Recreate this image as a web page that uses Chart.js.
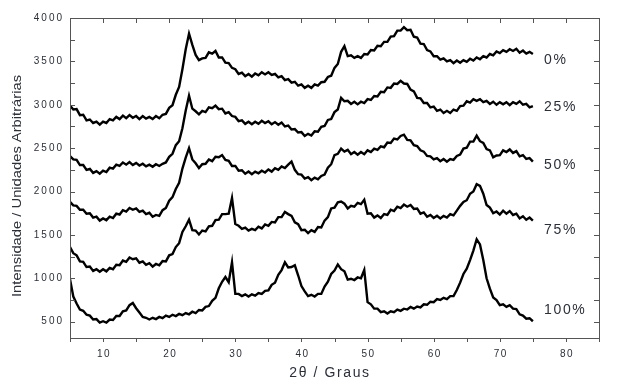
<!DOCTYPE html>
<html>
<head>
<meta charset="utf-8">
<script src="https://cdn.jsdelivr.net/npm/chart.js@4.4.1/dist/chart.umd.min.js"></script>
<style>
  html, body { margin: 0; padding: 0; background: #fff; }
  #wrap { width: 640px; height: 391px; position: relative; }
</style>
</head>
<body>
<div id="wrap"><canvas id="xrd"></canvas></div>
<script>
const angleStart = 5;
const angleStep = 0.5;

const seriesNames = ['0%', '25%', '50%', '75%', '100%'];

const s0 = [
  2990, 2945, 2950, 2880, 2885, 2820, 2830, 2790, 2805, 2770,
  2805, 2790, 2835, 2820, 2860, 2835, 2875, 2845, 2880, 2850,
  2870, 2835, 2870, 2840, 2860, 2835, 2870, 2845, 2885, 2895,
  2965, 2995, 3115, 3205, 3410, 3640, 3820, 3690, 3575, 3515,
  3535, 3540, 3605, 3590, 3620, 3545, 3545, 3485, 3480, 3425,
  3410, 3355, 3370, 3330, 3355, 3325, 3360, 3340, 3375, 3350,
  3375, 3345, 3355, 3315, 3330, 3285, 3295, 3255, 3265, 3220,
  3235, 3195, 3220, 3195, 3235, 3220, 3260, 3265, 3320, 3335,
  3425, 3470, 3610, 3675, 3560, 3570, 3540, 3560, 3540, 3585,
  3580, 3630, 3625, 3680, 3675, 3725, 3725, 3785, 3790, 3855,
  3855, 3895, 3860, 3865, 3785, 3775, 3705, 3700, 3630, 3615,
  3560, 3560, 3520, 3535, 3500, 3515, 3480, 3510, 3485, 3515,
  3495, 3530, 3510, 3545, 3525, 3560, 3545, 3585, 3570, 3615,
  3595, 3630, 3610, 3640, 3620, 3645, 3600, 3625, 3590, 3610,
  3585
];

const s25 = [
  2410, 2370, 2365, 2305, 2305, 2250, 2260, 2215, 2235, 2205,
  2240, 2225, 2275, 2265, 2310, 2295, 2335, 2310, 2340, 2305,
  2330, 2300, 2320, 2290, 2310, 2285, 2315, 2295, 2320, 2335,
  2400, 2435, 2535, 2580, 2730, 2935, 3105, 2955, 2925, 2890,
  2930, 2915, 2970, 2960, 2990, 2950, 2955, 2900, 2915, 2870,
  2860, 2810, 2820, 2780, 2805, 2775, 2805, 2780, 2815, 2790,
  2810, 2775, 2800, 2770, 2795, 2750, 2760, 2715, 2720, 2680,
  2685, 2640, 2665, 2645, 2695, 2690, 2745, 2755, 2825, 2835,
  2915, 2945, 3080, 3040, 3045, 3010, 3035, 3005, 3035, 3020,
  3065, 3055, 3100, 3095, 3150, 3145, 3200, 3195, 3245, 3240,
  3275, 3245, 3240, 3175, 3155, 3080, 3075, 3020, 3020, 2970,
  2980, 2930, 2945, 2905, 2930, 2905, 2945, 2930, 2985, 2990,
  3040, 3025, 3065, 3045, 3065, 3030, 3045, 3010, 3035, 3000,
  3030, 3005, 3030, 2995, 3030, 3010, 3040, 3000, 3010, 2970,
  2985
];

const s50 = [
  1880, 1840, 1835, 1790, 1790, 1745, 1750, 1700, 1710, 1665,
  1690, 1670, 1710, 1695, 1745, 1735, 1785, 1770, 1810, 1790,
  1805, 1765, 1780, 1740, 1755, 1710, 1730, 1720, 1785, 1810,
  1895, 1935, 2030, 2100, 2265, 2390, 2500, 2370, 2325, 2270,
  2315, 2320, 2370, 2350, 2400, 2395, 2420, 2365, 2355, 2295,
  2295, 2240, 2245, 2205, 2230, 2200, 2230, 2210, 2240, 2220,
  2255, 2230, 2270, 2250, 2290, 2270, 2310, 2345, 2250, 2200,
  2195, 2150, 2165, 2130, 2160, 2140, 2180, 2195, 2275, 2315,
  2420, 2435, 2495, 2460, 2480, 2430, 2455, 2425, 2455, 2430,
  2475, 2455, 2495, 2480, 2520, 2510, 2565, 2560, 2610, 2600,
  2640, 2655, 2595, 2590, 2535, 2525, 2475, 2460, 2410, 2405,
  2370, 2385, 2350, 2375, 2345, 2375, 2365, 2410, 2425, 2495,
  2505, 2575, 2575, 2645, 2580, 2560, 2490, 2475, 2395, 2415,
  2420, 2475, 2455, 2485, 2445, 2465, 2405, 2420, 2375, 2385,
  2345
];

const s75 = [
  1360, 1290, 1265, 1195, 1190, 1130, 1135, 1085, 1105, 1075,
  1105, 1080, 1120, 1105, 1155, 1150, 1205, 1190, 1240, 1220,
  1230, 1180, 1195, 1155, 1175, 1135, 1165, 1150, 1200, 1195,
  1265, 1280, 1360, 1405, 1535, 1600, 1675, 1555, 1550, 1505,
  1550, 1540, 1600, 1605, 1670, 1675, 1740, 1740, 1745, 1925,
  1625, 1605, 1570, 1585, 1550, 1570, 1555, 1595, 1575, 1620,
  1605, 1650, 1645, 1705, 1705, 1765, 1740, 1720, 1645, 1625,
  1555, 1560, 1520, 1555, 1535, 1590, 1585, 1665, 1705, 1805,
  1815, 1875, 1885, 1860, 1805, 1835, 1825, 1870, 1855, 1905,
  1745, 1750, 1700, 1725, 1695, 1740, 1730, 1790, 1775, 1825,
  1810, 1850, 1825, 1845, 1800, 1805, 1745, 1760, 1710, 1730,
  1695, 1720, 1690, 1720, 1700, 1740, 1725, 1780, 1835, 1880,
  1900, 1975, 2000, 2085, 2065, 1975, 1845, 1815, 1750, 1770,
  1735, 1780, 1745, 1775, 1730, 1745, 1690, 1715, 1675, 1700,
  1665
];

const s100 = [
  990, 790, 710, 640, 625, 580, 570, 525, 530, 490,
  505, 490, 525, 520, 565, 565, 620, 630, 690, 715,
  655, 605, 555, 545, 525, 545, 530, 555, 540, 570,
  555, 580, 565, 590, 575, 600, 585, 615, 600, 635,
  630, 670, 680, 740, 775, 885, 960, 1015, 955, 1185,
  820, 820, 795, 815, 790, 815, 800, 830, 820, 855,
  860, 925, 950, 1040, 1095, 1185, 1125, 1130, 1150, 1035,
  910, 850, 795, 810, 790, 820, 820, 905, 960, 1050,
  1090, 1160, 1105, 1080, 985, 995, 980, 1010, 1000, 1095,
  725, 700, 650, 650, 610, 620, 595, 620, 610, 640,
  625, 650, 640, 670, 650, 675, 665, 700, 695, 730,
  725, 760, 750, 775, 760, 795, 795, 865, 950, 1050,
  1110, 1210, 1320, 1450, 1390, 1210, 1000, 880, 780, 750,
  690, 700, 670, 690, 650, 645, 585, 570, 535, 540,
  505
];

const xTicks = [10, 20, 30, 40, 50, 60, 70, 80];
const yTicks = [500, 1000, 1500, 2000, 2500, 3000, 3500, 4000];

// where the series names sit (2θ, intensity)
const nameX = 76.7;
const nameY = [3515, 2970, 2300, 1560, 630];

const FONT = "'Liberation Sans', Arial, sans-serif";
const INK = '#2b2f38';

function toPoints(vals) {
  return vals.map((v, i) => ({ x: angleStart + i * angleStep, y: v }));
}

// ── Frame, ticks and all text ─────────────────────────────────────
const decor = {
  id: 'decor',
  afterDraw(chart) {
    const { ctx, chartArea: a, scales: { x, y } } = chart;
    ctx.save();
    ctx.strokeStyle = '#555';
    ctx.lineWidth = 1;
    ctx.strokeRect(a.left + 0.5, a.top + 0.5, a.right - a.left, a.bottom - a.top);

    const seg = (x1, y1, x2, y2) => { ctx.beginPath(); ctx.moveTo(x1, y1); ctx.lineTo(x2, y2); ctx.stroke(); };
    for (let v = 5; v <= 85; v += 5) {
      const px = Math.round(x.getPixelForValue(v)) + 0.5;
      seg(px, a.top, px, a.top + 5);
      seg(px, a.bottom, px, a.bottom + 4);
    }
    for (let v = 500; v <= 4000; v += 250) {
      const py = Math.round(y.getPixelForValue(v)) + 0.5;
      seg(a.left, py, a.left + 5, py);
      seg(a.right - 5, py, a.right, py);
    }

    ctx.fillStyle = INK;
    ctx.textBaseline = 'middle';

    // y tick labels
    ctx.font = '10px ' + FONT;
    ctx.letterSpacing = '2px';
    ctx.textAlign = 'right';
    yTicks.forEach(v => ctx.fillText(String(v), a.left - 6, y.getPixelForValue(v)));

    // x tick labels
    ctx.letterSpacing = '1.5px';
    ctx.textAlign = 'center';
    xTicks.forEach(v => ctx.fillText(String(v), x.getPixelForValue(v) + 1, 354));

    // series names
    ctx.font = '14px ' + FONT;
    ctx.letterSpacing = '1.6px';
    ctx.textAlign = 'left';
    seriesNames.forEach((n, i) => ctx.fillText(n, x.getPixelForValue(nameX), y.getPixelForValue(nameY[i])));

    // axis titles
    ctx.textAlign = 'center';
    ctx.fillText('2θ / Graus', 330, 373);

    ctx.letterSpacing = '0px';
    ctx.font = '13px ' + FONT;
    const title = 'Intensidade / Unidades Arbitrárias';
    const w = ctx.measureText(title).width;
    ctx.translate(17.5, 186);
    ctx.rotate(-Math.PI / 2);
    ctx.scale(222 / w, 1);
    ctx.fillText(title, 0, 0);
    ctx.restore();
  }
};

const series = [s0, s25, s50, s75, s100];

new Chart(document.getElementById('xrd'), {
  type: 'line',
  data: {
    datasets: series.map((vals, i) => ({
      label: seriesNames[i],
      data: toPoints(vals),
      borderColor: '#000',
      borderWidth: 2.4,
      borderJoinStyle: 'miter',
      pointRadius: 0,
      tension: 0,
      fill: false
    }))
  },
  options: {
    responsive: true, maintainAspectRatio: false,
    animation: false,
    layout: { padding: { left: 70, right: 41, top: 18, bottom: 53 } },
    plugins: { legend: { display: false }, tooltip: { enabled: false } },
    scales: {
      x: { type: 'linear', min: 5, max: 85, display: false },
      y: { min: 312, max: 4000, display: false }
    }
  },
  plugins: [decor]
});
</script>
</body>
</html>
